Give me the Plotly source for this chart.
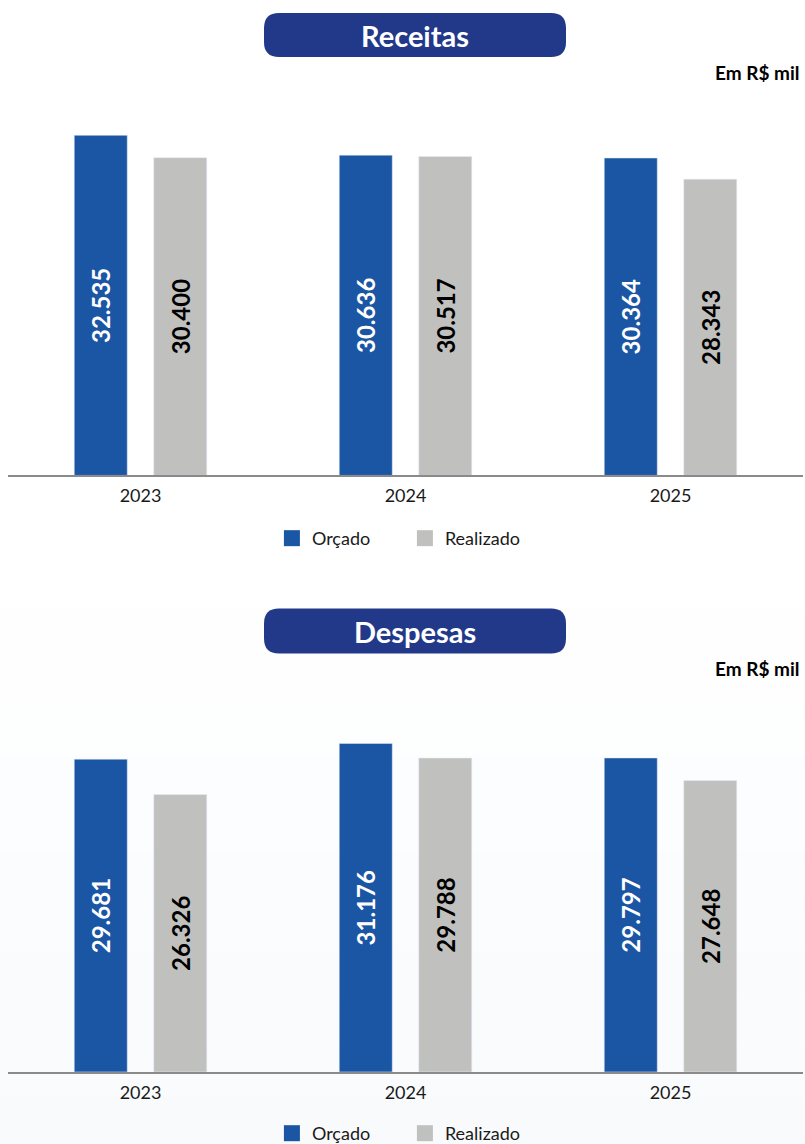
import plotly.graph_objects as go

W, H = 805, 1144          # reference picture size (layout is laid out in these pixels)
FIG_H = 1152              # page height rendered (compensates the vertical fit of the capture)

anos = ["2023", "2024", "2025"]
receitas_orcado = [32535, 30636, 30364]
receitas_realizado = [30400, 30517, 28343]
despesas_orcado = [29681, 31176, 29797]
despesas_realizado = [26326, 29788, 27648]

titulos = ["Receitas", "Despesas"]
unidade = "Em R$ mil"
serie_nomes = ["Orçado", "Realizado"]

AZUL = "#1b56a5"
CINZA = "#c0c0be"
PILL = "#22398a"
FONT = "Lato"


def px_x(p):
    return p / W


def px_y(p):
    return 1 - p / H


fig = go.Figure()

panels = [
    (receitas_orcado, receitas_realizado, "x", "y", "legend"),
    (despesas_orcado, despesas_realizado, "x2", "y2", "legend2"),
]

BAR_W = 0.2
for orc, rea, xa, ya, lg in panels:
    fig.add_trace(go.Bar(
        x=anos, y=orc, name=serie_nomes[0], marker_color=AZUL, xaxis=xa, yaxis=ya,
        width=BAR_W, offset=-0.25,
        texttemplate="%{y:,.0f}", textposition="inside", insidetextanchor="middle",
        textangle=-90, textfont=dict(family=FONT, size=24, color="white", weight="bold"),
        showlegend=False, hoverinfo="skip", cliponaxis=False,
    ))
    fig.add_trace(go.Bar(
        x=anos, y=rea, name=serie_nomes[1], marker_color=CINZA, xaxis=xa, yaxis=ya,
        width=BAR_W, offset=0.05,
        texttemplate="%{y:,.0f}", textposition="inside", insidetextanchor="middle",
        textangle=-90, textfont=dict(family=FONT, size=24, color="black", weight="bold"),
        showlegend=False, hoverinfo="skip", cliponaxis=False,
    ))
    for nome, cor in zip(serie_nomes, [AZUL, CINZA]):
        fig.add_trace(go.Scatter(
            x=[None], y=[None], mode="markers", name=nome, xaxis=xa, yaxis=ya,
            marker=dict(symbol="square", size=16, color=cor, line=dict(width=0)),
            legend=lg, showlegend=True,
        ))

axis_x = dict(showline=True, linecolor="#8a8a8a", linewidth=2, showgrid=False,
              zeroline=False, ticks="", tickfont=dict(family=FONT, size=18, color="#1a1a1a"),
              ticklabelstandoff=3, fixedrange=True)
axis_y = dict(showline=False, showgrid=False, zeroline=False, showticklabels=False,
              range=[0, 36000], fixedrange=True)

leg_common = dict(orientation="h", x=0.503, xanchor="center", yanchor="middle",
                  entrywidth=88, font=dict(family=FONT, size=18, color="#1a1a1a"),
                  bgcolor="rgba(0,0,0,0)", itemclick=False, itemdoubleclick=False)

xdom = [px_x(8), px_x(803)]
fig.update_layout(
    width=W, height=FIG_H,
    margin=dict(l=0, r=0, t=0, b=0),
    paper_bgcolor="white", plot_bgcolor="rgba(0,0,0,0)",
    separators=",.",
    barmode="group",
    font=dict(family=FONT, color="#1a1a1a"),
    xaxis=dict(axis_x, domain=xdom, anchor="y"),
    yaxis=dict(axis_y, domain=[px_y(475), px_y(99)], anchor="x"),
    xaxis2=dict(axis_x, domain=xdom, anchor="y2"),
    yaxis2=dict(axis_y, domain=[px_y(1071), px_y(692)], anchor="x2"),
    legend=dict(leg_common, y=px_y(538)),
    legend2=dict(leg_common, y=px_y(1133)),
)

shapes = []
# subtle background gradient in lower half
n = 12
top_px, bot_px = 560, H
for i in range(n):
    a = top_px + (bot_px - top_px) * i / n
    b = top_px + (bot_px - top_px) * (i + 1) / n
    t = (i + 0.5) / n
    r = round(255 - 7 * t)
    g = round(255 - 5 * t)
    bl = round(255 - 3 * t)
    shapes.append(dict(type="rect", xref="paper", yref="paper", x0=0, x1=1,
                       y0=px_y(b), y1=px_y(a), fillcolor=f"rgb({r},{g},{bl})",
                       line=dict(width=0), layer="below"))


def pill(x0p, x1p, t, b, rad):
    X0, X1 = px_x(x0p), px_x(x1p)
    rx = rad / W
    T, B = px_y(t), px_y(b)
    ry = rad / H
    return (f"M{X0+rx},{T} L{X1-rx},{T} Q{X1},{T} {X1},{T-ry} "
            f"L{X1},{B+ry} Q{X1},{B} {X1-rx},{B} L{X0+rx},{B} "
            f"Q{X0},{B} {X0},{B+ry} L{X0},{T-ry} Q{X0},{T} {X0+rx},{T} Z")


annotations = []
for titulo, (t, b), em_y in zip(titulos, [(13, 57), (608, 653)], [72, 668]):
    shapes.append(dict(type="path", xref="paper", yref="paper", path=pill(264, 566, t, b, 15),
                       fillcolor=PILL, line=dict(width=0), layer="above"))
    annotations.append(dict(text=f"<b>{titulo}</b>", xref="paper", yref="paper",
                            x=px_x(415), y=px_y((t + b) / 2), xanchor="center", yanchor="middle",
                            showarrow=False, font=dict(family=FONT, size=29, color="white")))
    annotations.append(dict(text=f"<b>{unidade}</b>", xref="paper", yref="paper",
                            x=px_x(802), y=px_y(em_y), xanchor="right", yanchor="middle",
                            showarrow=False, font=dict(family=FONT, size=19, color="black")))

fig.update_layout(shapes=shapes, annotations=annotations)

fig.write_html(
    "out.html",
    config={"displayModeBar": False, "staticPlot": True},
    post_script=(
        "document.documentElement.style.margin='0';"
        "document.documentElement.style.overflow='hidden';"
        "document.body.style.margin='0';"
        "document.body.style.overflow='hidden';"
    ),
)
